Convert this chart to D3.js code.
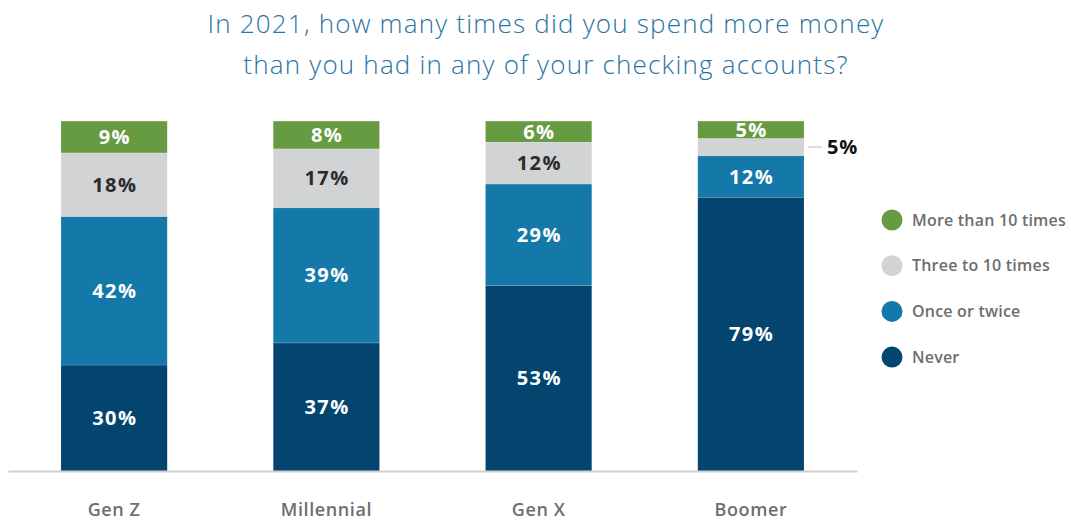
<!DOCTYPE html>
<html>
<head>
<meta charset="utf-8">
<script src="https://cdn.jsdelivr.net/npm/d3@7"></script>
<style>
  html, body { margin: 0; padding: 0; background: #fff; }
  svg { display: block; }
</style>
</head>
<body>
<svg id="chart" width="1071" height="521"></svg>
<script>
// Generations on the x axis
const categories = ["Gen Z", "Millennial", "Gen X", "Boomer"];
// Answer groups, stacked bottom to top
const seriesNames = ["Never", "Once or twice", "Three to 10 times", "More than 10 times"];
// Percent of respondents per generation for each answer
const never        = [30, 37, 53, 79];
const onceOrTwice  = [42, 39, 29, 12];
const threeToTen   = [18, 17, 12, 5];
const moreThanTen  = [9, 8, 6, 5];
const seriesColors = ["#03456f", "#1479a9", "#d1d3d4", "#679b41"];
const labelColors  = ["#ffffff", "#ffffff", "#2b2b2b", "#ffffff"];
const titleLines = [
  "In 2021, how many times did you spend more money",
  "than you had in any of your checking accounts?"
];

const seriesValues = [never, onceOrTwice, threeToTen, moreThanTen];
const rows = categories.map((c, i) => {
  const r = { category: c };
  seriesNames.forEach((s, k) => { r[s] = seriesValues[k][i]; });
  return r;
});
// Each bar is a full 100% column (rounded shares may not sum to exactly 100)
const stacked = d3.stack().keys(seriesNames).offset(d3.stackOffsetExpand)(rows);

const svg = d3.select("#chart");
const font = "'Open Sans', 'Noto Sans', sans-serif";

// Title
svg.append("g").selectAll("text")
  .data(titleLines)
  .join("text")
  .attr("x", 546)
  .attr("y", (d, i) => 33 + i * 41)
  .attr("text-anchor", "middle")
  .attr("font-family", font)
  .attr("font-weight", 300)
  .attr("font-size", 26)
  .attr("letter-spacing", 1.2)
  .attr("fill", "#2a73a4")
  .text(d => d);

const x = d3.scaleBand().domain(categories).range([8, 857]).paddingInner(0.5).paddingOuter(0.25);
const y = d3.scaleLinear().domain([0, 1]).range([471, 121]);

// Stacked segments
const layers = svg.append("g").selectAll("g")
  .data(stacked)
  .join("g")
  .attr("fill", (d, i) => seriesColors[i]);

layers.selectAll("rect")
  .data(d => d)
  .join("rect")
  .attr("x", d => x(d.data.category))
  .attr("width", x.bandwidth())
  .attr("y", d => y(d[1]))
  .attr("height", d => y(d[0]) - y(d[1]));

// Thin separators between segments
layers.selectAll("line.sep")
  .data(d => d)
  .join("line")
  .attr("class", "sep")
  .attr("x1", d => x(d.data.category))
  .attr("x2", d => x(d.data.category) + x.bandwidth())
  .attr("y1", d => y(d[1]))
  .attr("y2", d => y(d[1]))
  .attr("stroke", "#ffffff")
  .attr("stroke-opacity", 0.35)
  .attr("stroke-width", 1);

// Value labels inside segments (the narrow Boomer grey slice is labelled outside)
stacked.forEach((layer, k) => {
  svg.append("g").selectAll("text")
    .data(layer.filter(d => !(d.data.category === "Boomer" && layer.key === "Three to 10 times")))
    .join("text")
    .attr("x", d => x(d.data.category) + x.bandwidth() / 2 + 0.75)
    .attr("y", d => (y(d[0]) + y(d[1])) / 2)
    .attr("dy", "0.36em")
    .attr("text-anchor", "middle")
    .attr("font-family", font)
    .attr("font-weight", 700)
    .attr("font-size", 20)
    .attr("letter-spacing", 1.5)
    .attr("fill", labelColors[k])
    .text(d => d.data[layer.key] + "%");
});

// Callout for the Boomer grey slice
const boomerGrey = stacked[2].find(d => d.data.category === "Boomer");
const cy = (y(boomerGrey[0]) + y(boomerGrey[1])) / 2;
const bx = x("Boomer") + x.bandwidth();
svg.append("line")
  .attr("x1", bx + 4).attr("x2", bx + 18)
  .attr("y1", cy).attr("y2", cy)
  .attr("stroke", "#c8c8c8").attr("stroke-width", 1.2);
svg.append("text")
  .attr("x", bx + 23)
  .attr("y", cy)
  .attr("dy", "0.36em")
  .attr("font-family", font)
  .attr("font-weight", 700)
  .attr("font-size", 20)
  .attr("letter-spacing", 1)
  .attr("fill", "#111")
  .text(boomerGrey.data["Three to 10 times"] + "%");

// Baseline and category labels
const xAxis = svg.append("g")
  .attr("transform", "translate(0,471)")
  .call(d3.axisBottom(x).tickSize(0).tickPadding(32));
xAxis.select(".domain").attr("stroke", "#d0d0d0").attr("stroke-width", 2);
xAxis.selectAll("text")
  .attr("font-family", font)
  .attr("font-weight", 600)
  .attr("font-size", 18)
  .attr("letter-spacing", 0.6)
  .attr("fill", "#6d6e71");

// Legend, top entry first
const legendItems = seriesNames.map((s, i) => ({ name: s, color: seriesColors[i] })).reverse();
const legend = svg.append("g").selectAll("g")
  .data(legendItems)
  .join("g")
  .attr("transform", (d, i) => `translate(892, ${220 + i * 45.7})`);
legend.append("circle").attr("r", 10.5).attr("fill", d => d.color);
legend.append("text")
  .attr("x", 20)
  .attr("dy", "0.35em")
  .attr("font-family", font)
  .attr("font-weight", 600)
  .attr("font-size", 16)
  .attr("letter-spacing", 0.2)
  .attr("fill", "#6d6e71")
  .text(d => d.name);
</script>
</body>
</html>
